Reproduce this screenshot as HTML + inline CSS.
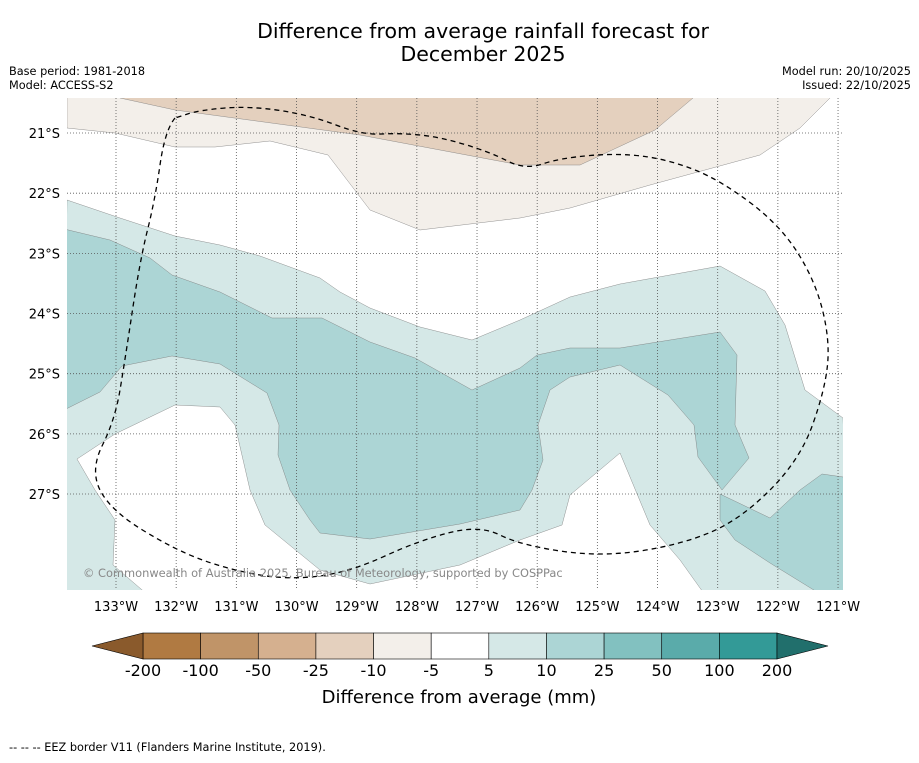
<!DOCTYPE html>
<html><head><meta charset="utf-8"><style>
body{margin:0;background:#fff;font-family:"Liberation Sans","DejaVu Sans",sans-serif;}
svg text{font-family:"DejaVu Sans","Liberation Sans",sans-serif;}
</style></head><body>
<svg id="c" width="919" height="758" xmlns="http://www.w3.org/2000/svg">
<text x="483" y="38" font-size="20.5" text-anchor="middle">Difference from average rainfall forecast for</text>
<text x="483" y="61" font-size="20.5" text-anchor="middle">December 2025</text>
<text x="9" y="75" font-size="11.3">Base period: 1981-2018</text>
<text x="9" y="89" font-size="11.3">Model: ACCESS-S2</text>
<text x="911" y="75" font-size="11.3" text-anchor="end">Model run: 20/10/2025</text>
<text x="911" y="89" font-size="11.3" text-anchor="end">Issued: 22/10/2025</text>
<defs><clipPath id="mc"><rect x="67" y="98" width="776" height="492"/></clipPath></defs>
<g id="map" clip-path="url(#mc)"></g>
<g id="axes"></g>
<g id="cbar"></g>
<text x="459" y="703" font-size="18" text-anchor="middle">Difference from average (mm)</text>
<text x="9" y="751" font-size="11.3">--  --  -- EEZ border V11 (Flanders Marine Institute, 2019).</text>
</svg>
<script>
const NS="http://www.w3.org/2000/svg";
const lonTicks=[133,132,131,130,129,128,127,126,125,124,123,122,121];
const latTicks=[21,22,23,24,25,26,27];
const levels=[-200,-100,-50,-25,-10,-5,5,10,25,50,100,200];
const levelColors=["#b07a42","#c09468","#d5b08f","#e4d0be","#f3efea","#ffffff","#d5e8e7","#acd5d5","#82c1c0","#5aabaa","#339a97"];
const extColors=["#8a5a2c","#216f6c"];
// contour polygons in map pixel units
const polyLightBrown=[[67,90],[840,90],[830,98],[800,128],[760,155],[650,185],[570,208],[520,218],[420,230],[370,210],[328,155],[270,141],[215,147],[175,147],[115,133],[67,128]];
const polyBrown=[[110,90],[700,90],[693,98],[655,130],[580,165],[520,165],[360,135],[175,110],[120,98]];
const polyTeal=[[67,200],[120,218],[175,236],[220,245],[260,256],[320,278],[340,292],[370,308],[420,327],[472,340],[520,320],[570,297],[620,284],[720,266],[765,291],[785,325],[805,390],[843,418],[850,600],[60,600]];
const polyWhite=[[77,459],[115,434],[175,405],[220,407],[235,425],[250,490],[265,525],[320,570],[370,584],[460,565],[520,540],[562,525],[570,495],[620,453],[650,525],[680,560],[705,595],[148,595],[113,565],[115,520],[95,490]];
const polyMid1=[[60,228],[110,240],[150,258],[172,275],[220,292],[272,318],[322,318],[370,342],[415,358],[472,390],[520,368],[537,355],[570,348],[620,348],[720,332],[737,355],[735,425],[749,458],[722,490],[698,457],[694,425],[668,395],[620,365],[570,377],[550,390],[538,425],[543,460],[532,490],[520,510],[460,524],[370,539],[320,533],[310,520],[290,490],[278,455],[279,425],[267,393],[220,364],[172,356],[122,366],[100,392],[60,412]];
const polyMid2=[[720,494],[770,518],[800,490],[822,474],[850,478],[850,600],[830,600],[770,563],[735,540],[720,520]];
const eez=[[175,118],[165,130],[155,200],[140,260],[125,360],[115,420],[90,470],[110,510],[175,550],[230,570],[290,580],[350,572],[420,540],[480,525],[520,545],[600,557],[680,545],[740,520],[800,460],[825,390],[830,340],[815,280],[780,225],[720,180],[670,160],[620,153],[560,158],[525,170],[490,152],[440,137],[400,133],[362,135],[310,115],[250,106],[200,110],[175,118]];
const x=lon=>116+(133-lon)*60.17, y=lat=>133+(lat-21)*60.17;
function mk(t,a,p){const e=document.createElementNS(NS,t);for(const k in a)e.setAttribute(k,a[k]);(p||document.getElementById('c')).appendChild(e);return e;}
const map=document.getElementById('map');
const pts=a=>a.map(p=>p.join(',')).join(' ');
function smooth(a){let d='M'+a[0].join(',');for(let i=1;i<a.length-1;i++){const m=[(a[i][0]+a[i+1][0])/2,(a[i][1]+a[i+1][1])/2];d+=' Q'+a[i].join(',')+' '+m.join(',');}d+=' L'+a[a.length-1].join(',');return d;}
const polys=[[polyLightBrown,levelColors[4],'contour-minus10'],[polyBrown,levelColors[3],'contour-minus25'],[polyTeal,levelColors[6],'contour-plus5'],[polyWhite,'#ffffff','contour-near-average'],[polyMid1,levelColors[7],'contour-plus10-main'],[polyMid2,levelColors[7],'contour-plus10-east']];
polys.forEach(([pp,col,nm])=>{const e=mk('polygon',{points:pts(pp),fill:col,stroke:'#777','stroke-width':0.4},map);

});
lonTicks.forEach(l=>{const e=mk('line',{x1:x(l),x2:x(l),y1:98,y2:590,stroke:'#555','stroke-width':0.8,'stroke-dasharray':'1,2'},map);

});
latTicks.forEach(l=>{const e=mk('line',{x1:67,x2:843,y1:y(l),y2:y(l),stroke:'#555','stroke-width':0.8,'stroke-dasharray':'1,2'},map);

});
const ez=mk('path',{d:smooth(eez),fill:'none',stroke:'#000','stroke-width':1.3,'stroke-dasharray':'5,4'},map);


const cp=mk('text',{x:83,y:577,'font-size':11.4,fill:'#888'},map);cp.textContent='© Commonwealth of Australia 2025, Bureau of Meteorology, supported by COSPPac';


const ax=document.getElementById('axes');
lonTicks.forEach(l=>{const t=mk('text',{x:x(l),y:611,'font-size':13,'text-anchor':'middle'},ax);t.textContent=l+'°W';

});
latTicks.forEach(l=>{const t=mk('text',{x:60,y:y(l)+5,'font-size':13,'text-anchor':'end'},ax);t.textContent=l+'°S';

});
const cb=document.getElementById('cbar');
const cx0=143,cw=(777-143)/levelColors.length,cy=633,ch=26;
levelColors.forEach((col,i)=>{const r=mk('rect',{x:cx0+i*cw,y:cy,width:cw,height:ch,fill:col,stroke:'#000','stroke-width':0.6},cb);

});
const tl=mk('polygon',{points:`${cx0},${cy} ${cx0},${cy+ch} 92,${cy+ch/2}`,fill:extColors[0],stroke:'#000','stroke-width':0.6},cb);


const tr=mk('polygon',{points:`777,${cy} 777,${cy+ch} 828,${cy+ch/2}`,fill:extColors[1],stroke:'#000','stroke-width':0.6},cb);


levels.forEach((v,i)=>{const t=mk('text',{x:cx0+i*cw,y:676,'font-size':16,'text-anchor':'middle'},cb);t.textContent=v;

});
</script>
</body></html>
